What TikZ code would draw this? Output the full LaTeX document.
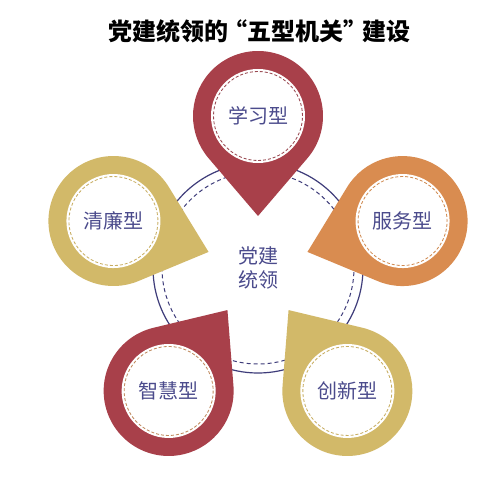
\documentclass[tikz,border=0pt]{standalone}
\usepackage{fontspec}
\newfontfamily\cjk{Noto Sans CJK SC}
\usetikzlibrary{calc}
\definecolor{pinred}{HTML}{A8404A}
\definecolor{pingold}{HTML}{D2B969}
\definecolor{pinorange}{HTML}{D98C50}
\definecolor{dashred}{HTML}{9A4A52}
\definecolor{dashgold}{HTML}{C8AE62}
\definecolor{dashorange}{HTML}{D08A50}
\definecolor{dashbrown}{HTML}{C08A5E}
\definecolor{txtc}{HTML}{4B4B8C}
\definecolor{ringc}{HTML}{3E3C7A}
\newcommand\pinshape[5]{% angle, fill, dash colour, name, text
  \begin{scope}[shift={($(C)+(#1:152)$)}, rotate=#1+180]
    \fill[#2] (100,0) -- (49.5:65) arc[start angle=49.5,end angle=310.5,radius=65] -- cycle;
    \fill[white] (0,0) circle[radius=47];
    \draw[#3, line width=0.85pt, dash pattern=on 3pt off 2pt] (0,0) circle[radius=44.5];
  \end{scope}
  \node[lbl] (#4) at ($(C)+(#1:152)$) {#5};
}
\begin{document}
\begin{tikzpicture}[x=1pt,y=1pt,
  lbl/.style={font=\cjk\fontsize{20}{24}\selectfont, text=txtc, align=center, inner sep=0pt},
  titlestyle/.style={font=\cjk\bfseries\fontsize{24}{28}\selectfont, text=black, inner sep=0pt}]
\useasboundingbox (0,0) rectangle (500,480);
\fill[white] (0,0) rectangle (500,480);
\coordinate (C) at (258,212);
\node[titlestyle] (title) at (259,449) {党建统领的\kern-5pt“五型机关”\kern-5pt建设};
\draw[ringc, line width=1.2pt] (C) circle[radius=105];
\draw[ringc, line width=1pt, dash pattern=on 4pt off 3pt] (C) circle[radius=96];
\pinshape{90}{pinred}{dashred}{xuexi}{学习型}
\pinshape{162}{pingold}{dashgold}{qinglian}{清廉型}
\pinshape{18}{pinorange}{dashorange}{fuwu}{服务型}
\pinshape{234}{pinred}{dashbrown}{zhihui}{智慧型}
\pinshape{306}{pingold}{dashgold}{chuangxin}{创新型}
\node[lbl] (center) at (C) {党建\\统领};
\end{tikzpicture}
\end{document}
